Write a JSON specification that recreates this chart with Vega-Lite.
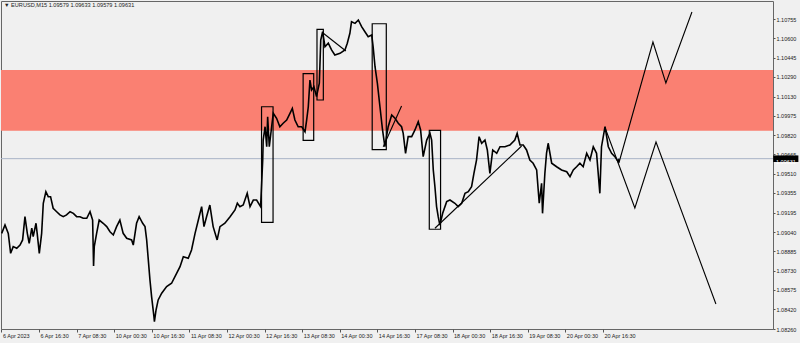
{
  "$schema": "https://vega.github.io/schema/vega-lite/v6.json",
  "width": 772,
  "height": 328,
  "autosize": {"type": "none"},
  "padding": {"left": 1, "top": 1, "right": 27, "bottom": 14},
  "background": "#f0f0f0",
  "config": {"view": {"stroke": "#666666", "strokeWidth": 1, "fill": "#f0f0f0"}, "font": "Liberation Sans"},
  "title": {"text": "▼ EURUSD,M15  1.09579 1.09633 1.09579 1.09631", "anchor": "start", "frame": "group", "fontSize": 5.6, "fontWeight": "normal", "color": "#222222", "font": "Liberation Sans", "baseline": "middle", "dx": 3, "dy": 10, "offset": 0},
  "datasets": {
    "zone": [{"t": -5, "t2": 345, "p": 1.10345, "p2": 1.09856}],
    "last": [{"t": -5, "t2": 345, "p": 1.09631}],
    "tag": [{"t": 328.5, "t2": 339.2, "p": 1.09604, "p2": 1.09657, "tc": 333.9, "label": "1.09631"}],
    "boxes": [
      {"t": 110.7, "t2": 115.6, "p": 1.10049, "p2": 1.09119},
      {"t": 128.4, "t2": 132.9, "p": 1.10315, "p2": 1.09779},
      {"t": 134.3, "t2": 137.0, "p": 1.10672, "p2": 1.10103},
      {"t": 157.8, "t2": 163.8, "p": 1.10717, "p2": 1.09703},
      {"t": 182.1, "t2": 186.9, "p": 1.09859, "p2": 1.09063}
    ],
    "lines": [
      {"g": "A", "k": 0, "t": 137.0, "p": 1.10640}, {"g": "A", "k": 1, "t": 146.6, "p": 1.10498},
      {"g": "B", "k": 0, "t": 162.5, "p": 1.09727}, {"g": "B", "k": 1, "t": 170.3, "p": 1.10055},
      {"g": "C", "k": 0, "t": 184.5, "p": 1.09071}, {"g": "C", "k": 1, "t": 221.4, "p": 1.09733},
      {"g": "D", "k": 0, "t": 256.8, "p": 1.09886}, {"g": "D", "k": 1, "t": 269.6, "p": 1.09234}, {"g": "D", "k": 2, "t": 278.6, "p": 1.09765}, {"g": "D", "k": 3, "t": 304.1, "p": 1.08461},
      {"g": "U", "k": 0, "t": 262.8, "p": 1.09596}, {"g": "U", "k": 1, "t": 277.3, "p": 1.10570}, {"g": "U", "k": 2, "t": 282.8, "p": 1.10240}, {"g": "U", "k": 3, "t": 293.9, "p": 1.10811}
    ],
    "price": [
      {"t": 0.1, "p": 1.09030}, {"t": 1.5, "p": 1.09097}, {"t": 2.9, "p": 1.09030}, {"t": 3.9, "p": 1.08869}, {"t": 5.0, "p": 1.08923},
      {"t": 6.5, "p": 1.08910}, {"t": 7.9, "p": 1.08936}, {"t": 9.0, "p": 1.08977}, {"t": 10.0, "p": 1.09164}, {"t": 11.0, "p": 1.09030},
      {"t": 11.8, "p": 1.08950}, {"t": 12.9, "p": 1.09071}, {"t": 13.5, "p": 1.09003}, {"t": 14.7, "p": 1.09111}, {"t": 15.2, "p": 1.09030},
      {"t": 16.1, "p": 1.08869}, {"t": 17.1, "p": 1.09030}, {"t": 17.8, "p": 1.09272}, {"t": 18.9, "p": 1.09365}, {"t": 19.9, "p": 1.09325},
      {"t": 20.9, "p": 1.09325}, {"t": 22.0, "p": 1.09232}, {"t": 23.5, "p": 1.09204}, {"t": 24.9, "p": 1.09178}, {"t": 26.3, "p": 1.09164},
      {"t": 27.7, "p": 1.09178}, {"t": 29.2, "p": 1.09204}, {"t": 30.6, "p": 1.09191}, {"t": 32.0, "p": 1.09164}, {"t": 33.4, "p": 1.09164},
      {"t": 34.8, "p": 1.09151}, {"t": 36.3, "p": 1.09151}, {"t": 37.7, "p": 1.09204}, {"t": 38.8, "p": 1.09137}, {"t": 39.2, "p": 1.08767},
      {"t": 39.5, "p": 1.08923}, {"t": 40.5, "p": 1.09030}, {"t": 41.6, "p": 1.09137}, {"t": 43.3, "p": 1.09111}, {"t": 44.8, "p": 1.09084},
      {"t": 46.2, "p": 1.09043}, {"t": 47.6, "p": 1.09017}, {"t": 49.0, "p": 1.09084}, {"t": 50.4, "p": 1.09137}, {"t": 51.8, "p": 1.09030},
      {"t": 53.3, "p": 1.08990}, {"t": 55.4, "p": 1.08977}, {"t": 56.1, "p": 1.08936}, {"t": 57.5, "p": 1.09111}, {"t": 58.6, "p": 1.09164},
      {"t": 60.1, "p": 1.09111}, {"t": 61.1, "p": 1.09084}, {"t": 61.8, "p": 1.08977}, {"t": 62.5, "p": 1.08816}, {"t": 63.2, "p": 1.08655},
      {"t": 63.9, "p": 1.08520}, {"t": 64.9, "p": 1.08359}, {"t": 65.1, "p": 1.08319}, {"t": 65.8, "p": 1.08413}, {"t": 66.7, "p": 1.08494},
      {"t": 68.2, "p": 1.08548}, {"t": 70.3, "p": 1.08601}, {"t": 72.4, "p": 1.08628}, {"t": 74.6, "p": 1.08709}, {"t": 76.0, "p": 1.08762},
      {"t": 77.4, "p": 1.08842}, {"t": 79.5, "p": 1.08829}, {"t": 80.9, "p": 1.08896}, {"t": 82.4, "p": 1.09030}, {"t": 83.8, "p": 1.09137},
      {"t": 85.2, "p": 1.09245}, {"t": 86.2, "p": 1.09084}, {"t": 87.3, "p": 1.09164}, {"t": 88.7, "p": 1.09258}, {"t": 90.1, "p": 1.09084},
      {"t": 91.8, "p": 1.08977}, {"t": 93.0, "p": 1.09084}, {"t": 95.1, "p": 1.09111}, {"t": 97.3, "p": 1.09164}, {"t": 99.4, "p": 1.09218},
      {"t": 100.4, "p": 1.09272}, {"t": 101.5, "p": 1.09245}, {"t": 102.9, "p": 1.09258}, {"t": 104.6, "p": 1.09352}, {"t": 105.8, "p": 1.09245},
      {"t": 107.2, "p": 1.09298}, {"t": 108.6, "p": 1.09298}, {"t": 110.3, "p": 1.09245}, {"t": 111.2, "p": 1.09620}, {"t": 111.4, "p": 1.09781},
      {"t": 112.2, "p": 1.09888}, {"t": 112.9, "p": 1.09727}, {"t": 113.3, "p": 1.09969}, {"t": 114.0, "p": 1.09727}, {"t": 115.0, "p": 1.09888},
      {"t": 115.7, "p": 1.09996}, {"t": 117.1, "p": 1.09956}, {"t": 118.5, "p": 1.09888}, {"t": 119.9, "p": 1.09916}, {"t": 121.4, "p": 1.09942},
      {"t": 122.8, "p": 1.09996}, {"t": 123.8, "p": 1.10036}, {"t": 124.9, "p": 1.09942}, {"t": 126.3, "p": 1.09888}, {"t": 127.8, "p": 1.09888},
      {"t": 129.2, "p": 1.09848}, {"t": 129.9, "p": 1.09942}, {"t": 130.6, "p": 1.10049}, {"t": 131.3, "p": 1.10264}, {"t": 132.0, "p": 1.10184},
      {"t": 133.0, "p": 1.10210}, {"t": 134.1, "p": 1.10130}, {"t": 135.3, "p": 1.10238}, {"t": 135.9, "p": 1.10586}, {"t": 136.7, "p": 1.10653},
      {"t": 137.7, "p": 1.10532}, {"t": 139.1, "p": 1.10560}, {"t": 140.5, "p": 1.10506}, {"t": 141.9, "p": 1.10465}, {"t": 144.1, "p": 1.10479},
      {"t": 146.2, "p": 1.10506}, {"t": 147.2, "p": 1.10560}, {"t": 148.3, "p": 1.10640}, {"t": 149.0, "p": 1.10733}, {"t": 150.5, "p": 1.10720},
      {"t": 151.9, "p": 1.10747}, {"t": 153.3, "p": 1.10693}, {"t": 154.7, "p": 1.10653}, {"t": 156.1, "p": 1.10613}, {"t": 157.6, "p": 1.10626},
      {"t": 158.2, "p": 1.10532}, {"t": 159.0, "p": 1.10371}, {"t": 160.0, "p": 1.10238}, {"t": 161.1, "p": 1.10049}, {"t": 162.2, "p": 1.09862},
      {"t": 163.2, "p": 1.09727}, {"t": 164.6, "p": 1.09888}, {"t": 166.1, "p": 1.09983}, {"t": 167.5, "p": 1.09956}, {"t": 168.9, "p": 1.09916},
      {"t": 170.3, "p": 1.09888}, {"t": 171.0, "p": 1.09835}, {"t": 172.0, "p": 1.09674}, {"t": 173.1, "p": 1.09808}, {"t": 174.6, "p": 1.09808},
      {"t": 176.0, "p": 1.09862}, {"t": 177.4, "p": 1.09929}, {"t": 178.4, "p": 1.09862}, {"t": 179.5, "p": 1.09647}, {"t": 181.0, "p": 1.09781},
      {"t": 182.4, "p": 1.09835}, {"t": 183.1, "p": 1.09781}, {"t": 183.8, "p": 1.09540}, {"t": 184.5, "p": 1.09405}, {"t": 185.2, "p": 1.09245},
      {"t": 185.9, "p": 1.09164}, {"t": 186.6, "p": 1.09097}, {"t": 187.8, "p": 1.09191}, {"t": 189.5, "p": 1.09285}, {"t": 190.9, "p": 1.09298},
      {"t": 193.0, "p": 1.09272}, {"t": 194.4, "p": 1.09245}, {"t": 195.9, "p": 1.09272}, {"t": 197.3, "p": 1.09352}, {"t": 198.7, "p": 1.09365},
      {"t": 200.1, "p": 1.09405}, {"t": 201.1, "p": 1.09513}, {"t": 202.2, "p": 1.09620}, {"t": 203.3, "p": 1.09808}, {"t": 204.4, "p": 1.09755},
      {"t": 205.8, "p": 1.09781}, {"t": 206.8, "p": 1.09701}, {"t": 207.9, "p": 1.09513}, {"t": 209.1, "p": 1.09701}, {"t": 210.8, "p": 1.09674},
      {"t": 212.2, "p": 1.09727}, {"t": 214.3, "p": 1.09727}, {"t": 216.4, "p": 1.09741}, {"t": 218.5, "p": 1.09781}, {"t": 219.5, "p": 1.09835},
      {"t": 220.7, "p": 1.09741}, {"t": 222.1, "p": 1.09741}, {"t": 223.5, "p": 1.09701}, {"t": 224.9, "p": 1.09620}, {"t": 226.3, "p": 1.09594},
      {"t": 227.8, "p": 1.09540}, {"t": 228.9, "p": 1.09272}, {"t": 229.9, "p": 1.09433}, {"t": 230.3, "p": 1.09191}, {"t": 231.3, "p": 1.09513},
      {"t": 232.0, "p": 1.09674}, {"t": 232.7, "p": 1.09755}, {"t": 234.2, "p": 1.09594}, {"t": 236.3, "p": 1.09566}, {"t": 238.4, "p": 1.09540},
      {"t": 240.6, "p": 1.09526}, {"t": 242.0, "p": 1.09486}, {"t": 243.4, "p": 1.09540}, {"t": 244.8, "p": 1.09566}, {"t": 246.2, "p": 1.09594},
      {"t": 247.6, "p": 1.09566}, {"t": 249.1, "p": 1.09674}, {"t": 250.5, "p": 1.09620}, {"t": 251.9, "p": 1.09727}, {"t": 253.3, "p": 1.09674},
      {"t": 254.7, "p": 1.09352}, {"t": 255.4, "p": 1.09727}, {"t": 256.9, "p": 1.09888}, {"t": 258.3, "p": 1.09727}, {"t": 259.7, "p": 1.09674},
      {"t": 261.1, "p": 1.09647}, {"t": 262.5, "p": 1.09607}, {"t": 262.9, "p": 1.09631}
    ]
  },
  "encoding": {
    "x": {
      "field": "t", "type": "quantitative",
      "scale": {"domain": [-0.2, 328.4], "nice": false, "zero": false},
      "axis": {
        "orient": "bottom", "title": null, "grid": false, "domain": false,
        "values": [0, 16, 32, 48, 64, 80, 96, 112, 128, 144, 160, 176, 192, 208, 224, 240, 256],
        "labelExpr": "['6 Apr 2023','6 Apr 16:30','7 Apr 08:30','10 Apr 00:30','10 Apr 16:30','11 Apr 08:30','12 Apr 00:30','12 Apr 16:30','13 Apr 08:30','14 Apr 00:30','14 Apr 16:30','17 Apr 08:30','18 Apr 00:30','18 Apr 16:30','19 Apr 08:30','20 Apr 00:30','20 Apr 16:30'][round(datum.value/16)]",
        "labelAlign": "left", "labelBaseline": "top", "labelFontSize": 5.5, "labelColor": "#222222", "labelFont": "Liberation Sans",
        "tickSize": 3, "tickColor": "#555555", "labelPadding": 1, "labelOffset": 1, "labelFlush": false, "labelOverlap": false
      }
    },
    "y": {
      "field": "p", "type": "quantitative",
      "scale": {"domain": [1.0826, 1.109], "nice": false, "zero": false},
      "axis": {
        "orient": "right", "title": null, "grid": false, "domain": false,
        "values": [1.10755, 1.106, 1.10445, 1.1029, 1.1013, 1.09975, 1.0982, 1.09665, 1.0951, 1.09355, 1.09195, 1.0904, 1.08885, 1.0873, 1.08575, 1.0842, 1.0826],
        "format": ".5f", "labelFontSize": 5.5, "labelColor": "#222222", "labelFont": "Liberation Sans",
        "tickSize": 2, "tickColor": "#555555", "labelPadding": 1, "labelFlush": false, "labelOverlap": false
      }
    }
  },
  "layer": [
    {"data": {"name": "zone"}, "mark": {"type": "rect", "fill": "#fa8072", "clip": true}, "encoding": {"x2": {"field": "t2"}, "y2": {"field": "p2"}}},
    {"data": {"name": "last"}, "mark": {"type": "rule", "color": "#a9b3c6", "strokeWidth": 1, "clip": true}, "encoding": {"x2": {"field": "t2"}}},
    {"data": {"name": "price"}, "mark": {"type": "line", "color": "#000000", "strokeWidth": 1.6, "strokeJoin": "miter"}, "encoding": {"order": {"field": "t"}}},
    {"data": {"name": "boxes"}, "mark": {"type": "rect", "filled": false, "stroke": "#000000", "strokeWidth": 1.2}, "encoding": {"x2": {"field": "t2"}, "y2": {"field": "p2"}}},
    {"data": {"name": "lines"}, "mark": {"type": "line", "color": "#000000", "strokeWidth": 1.1}, "encoding": {"detail": {"field": "g"}, "order": {"field": "k"}}},
    {"data": {"name": "tag"}, "mark": {"type": "rect", "fill": "#000000"}, "encoding": {"x2": {"field": "t2"}, "y2": {"field": "p2"}}},
    {"data": {"name": "tag"}, "mark": {"type": "text", "color": "#ffffff", "fontSize": 5.5, "font": "Liberation Sans", "align": "center", "baseline": "middle"}, "encoding": {"x": {"field": "tc", "type": "quantitative"}, "y": {"field": "p", "type": "quantitative"}, "text": {"field": "label"}}}
  ]
}
